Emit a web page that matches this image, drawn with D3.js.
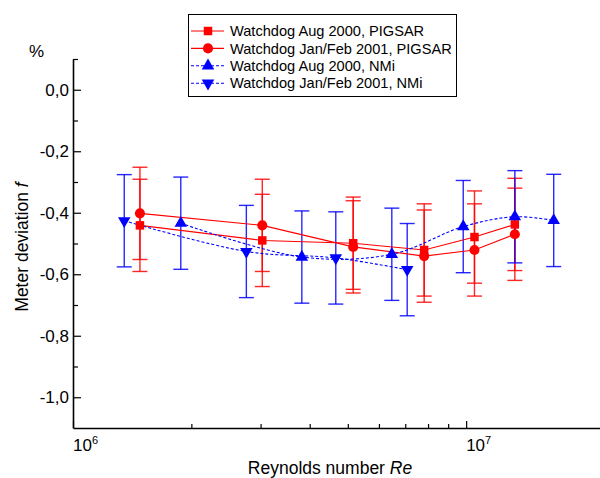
<!DOCTYPE html>
<html><head><meta charset="utf-8">
<script src="https://cdn.jsdelivr.net/npm/d3@7"></script>
<style>body{margin:0;background:#fff;} text{font-family:"Liberation Sans",Arial,Helvetica,sans-serif;fill:#000;}</style>
</head><body><svg id="c" width="600" height="478"></svg>
<script>
// ---- data ----
const seriesNames = ["Watchdog Aug 2000, PIGSAR", "Watchdog Jan/Feb 2001, PIGSAR", "Watchdog Aug 2000, NMi", "Watchdog Jan/Feb 2001, NMi"];
const reAug2000PIGSAR = [1.48e6, 3.03e6, 5.16e6, 7.82e6, 1.05e7, 1.33e7];
const fAug2000PIGSAR = [-0.441, -0.490, -0.499, -0.521, -0.479, -0.438];
const errAug2000PIGSAR = [0.15, 0.15, 0.15, 0.15, 0.15, 0.15];
const reJanFeb2001PIGSAR = [1.48e6, 3.03e6, 5.16e6, 7.82e6, 1.05e7, 1.33e7];
const fJanFeb2001PIGSAR = [-0.402, -0.441, -0.511, -0.541, -0.521, -0.470];
const errJanFeb2001PIGSAR = [0.15, 0.15, 0.15, 0.15, 0.15, 0.15];
const reAug2000NMi = [1.88e6, 3.82e6, 6.47e6, 9.83e6, 1.33e7, 1.67e7];
const fAug2000NMi = [-0.434, -0.544, -0.535, -0.445, -0.413, -0.425];
const errAug2000NMi = [0.15, 0.15, 0.15, 0.15, 0.15, 0.15];
const reJanFeb2001NMi = [1.35e6, 2.76e6, 4.66e6, 7.08e6];
const fJanFeb2001NMi = [-0.426, -0.526, -0.547, -0.585];
const errJanFeb2001NMi = [0.15, 0.15, 0.15, 0.15];

const yTicks = [0, -0.2, -0.4, -0.6, -0.8, -1.0];
const yTickLabels = ["0,0", "-0,2", "-0,4", "-0,6", "-0,8", "-1,0"];
const yMinorTicks = [0.1, -0.1, -0.3, -0.5, -0.7, -0.9];
const xTicks = [1e6, 1e7];
const xTickBase = ["10", "10"];
const xTickExp = ["6", "7"];
const xMinorTicks = [2e6, 3e6, 4e6, 5e6, 6e6, 7e6, 8e6, 9e6];
const xDomain = [1e6, 2.19e7];
const yDomain = [-1.1, 0.1];

const RED = "#ff0000", BLUE = "#0000ff";

const series = [
  {name: seriesNames[0], re: reAug2000PIGSAR, f: fAug2000PIGSAR, err: errAug2000PIGSAR, color: RED, sym: "square", dash: null, curve: d3.curveLinear},
  {name: seriesNames[1], re: reJanFeb2001PIGSAR, f: fJanFeb2001PIGSAR, err: errJanFeb2001PIGSAR, color: RED, sym: "circle", dash: null, curve: d3.curveLinear},
  {name: seriesNames[2], re: reAug2000NMi, f: fAug2000NMi, err: errAug2000NMi, color: BLUE, sym: "up", dash: "3,2", curve: d3.curveCatmullRom},
  {name: seriesNames[3], re: reJanFeb2001NMi, f: fJanFeb2001NMi, err: errJanFeb2001NMi, color: BLUE, sym: "down", dash: "3,2", curve: d3.curveCatmullRom}
];

// ---- layout ----
const svg = d3.select("#c");
const x = d3.scaleLog().domain(xDomain).range([73, 600]);
const y = d3.scaleLinear().domain(yDomain).range([428, 59]);

// y axis
const yAxis = svg.append("g").attr("transform", `translate(${x.range()[0]},0)`)
  .call(d3.axisLeft(y).tickValues(yTicks).tickSize(-8).tickSizeOuter(0).tickPadding(4)
    .tickFormat((d, i) => yTickLabels[i]));
yAxis.select(".domain").attr("stroke-width", 1.6);
yAxis.selectAll(".tick line").attr("stroke-width", 1.2);
yAxis.selectAll(".tick text").style("font-size", "17px").style("font-family", '"Liberation Sans",Arial,sans-serif');
const yMinor = svg.append("g").attr("transform", `translate(${x.range()[0]},0)`)
  .call(d3.axisLeft(y).tickValues(yMinorTicks).tickSize(-5).tickSizeOuter(0).tickFormat(""));
yMinor.select(".domain").remove();
yMinor.selectAll(".tick line").attr("stroke-width", 1.2);

// x axis
const xAxis = svg.append("g").attr("transform", `translate(0,${y.range()[0]})`)
  .call(d3.axisBottom(x).tickValues(xTicks).tickSize(-7).tickSizeOuter(0).tickFormat(""));
xAxis.select(".domain").attr("stroke-width", 1.6);
xAxis.selectAll(".tick line").attr("stroke-width", 1.2);
xAxis.selectAll(".tick").each(function(d, i) {
  const t = d3.select(this).append("text").attr("x", 12).attr("y", 23)
    .attr("text-anchor", "middle").style("font-size", "17px").attr("fill", "#000");
  t.append("tspan").text(xTickBase[i]);
  t.append("tspan").attr("dy", -7).style("font-size", "11px").text(xTickExp[i]);
});
const xMinor = svg.append("g").attr("transform", `translate(0,${y.range()[0]})`)
  .call(d3.axisBottom(x).tickValues(xMinorTicks).tickSize(-4).tickSizeOuter(0).tickFormat(""));
xMinor.select(".domain").remove();
xMinor.selectAll(".tick line").attr("stroke-width", 1.2);

// titles
svg.append("text").attr("x", 29).attr("y", 57).style("font-size", "17px").text("%");
const yt = svg.append("text").attr("transform", "translate(28,247) rotate(-90)")
  .attr("text-anchor", "middle").style("font-size", "17.5px");
yt.append("tspan").text("Meter deviation ");
yt.append("tspan").style("font-style", "italic").text("f");
const xt = svg.append("text").attr("x", 330).attr("y", 474)
  .attr("text-anchor", "middle").style("font-size", "17.5px");
xt.append("tspan").text("Reynolds number ");
xt.append("tspan").style("font-style", "italic").text("Re");

// symbols
function drawSymbol(g, type, color, cx, cy) {
  if (type === "square") {
    g.append("path").attr("d", d3.symbol(d3.symbolSquare, 72)()).attr("transform", `translate(${cx},${cy})`).attr("fill", color);
  } else if (type === "circle") {
    g.append("path").attr("d", d3.symbol(d3.symbolCircle, 80)()).attr("transform", `translate(${cx},${cy})`).attr("fill", color);
  } else if (type === "up") {
    g.append("path").attr("d", d3.symbol(d3.symbolTriangle, 68)()).attr("transform", `translate(${cx},${cy})`).attr("fill", color);
  } else {
    g.append("path").attr("d", d3.symbol(d3.symbolTriangle, 68)()).attr("transform", `translate(${cx},${cy}) rotate(180)`).attr("fill", color);
  }
}

const plot = svg.append("g");
// error bars
series.forEach(s => {
  const g = plot.append("g").attr("stroke", s.color).attr("stroke-width", 1.4).attr("stroke-opacity", 0.85);
  s.re.forEach((r, i) => {
    const cx = x(r), y1 = y(s.f[i] + s.err[i]), y2 = y(s.f[i] - s.err[i]);
    g.append("line").attr("x1", cx).attr("x2", cx).attr("y1", y1).attr("y2", y2);
    g.append("line").attr("x1", cx - 7.5).attr("x2", cx + 7.5).attr("y1", y1).attr("y2", y1);
    g.append("line").attr("x1", cx - 7.5).attr("x2", cx + 7.5).attr("y1", y2).attr("y2", y2);
  });
});
// lines
series.forEach(s => {
  const line = d3.line().x(d => x(d[0])).y(d => y(d[1])).curve(s.curve);
  const p = plot.append("path").attr("d", line(s.re.map((r, i) => [r, s.f[i]])))
    .attr("fill", "none").attr("stroke", s.color).attr("stroke-width", 1.1);
  if (s.dash) p.attr("stroke-dasharray", s.dash);
});
// markers
series.forEach(s => {
  const g = plot.append("g");
  s.re.forEach((r, i) => drawSymbol(g, s.sym, s.color, x(r), y(s.f[i])));
});

// legend
const lg = svg.append("g");
lg.append("rect").attr("x", 188.5).attr("y", 14.5).attr("width", 268).attr("height", 82)
  .attr("fill", "#fff").attr("stroke", "#000").attr("stroke-width", 1);
series.forEach((s, i) => {
  const cy = 31 + i * 17.4;
  const l = lg.append("line").attr("x1", 191).attr("x2", 224).attr("y1", cy).attr("y2", cy)
    .attr("stroke", s.color).attr("stroke-width", 1.1);
  if (s.dash) l.attr("stroke-dasharray", s.dash);
  drawSymbol(lg, s.sym, s.color, 208, cy);
  lg.append("text").attr("x", 230).attr("y", cy).attr("dy", "0.36em").style("font-size", "14.6px").text(s.name);
});
</script></body></html>
